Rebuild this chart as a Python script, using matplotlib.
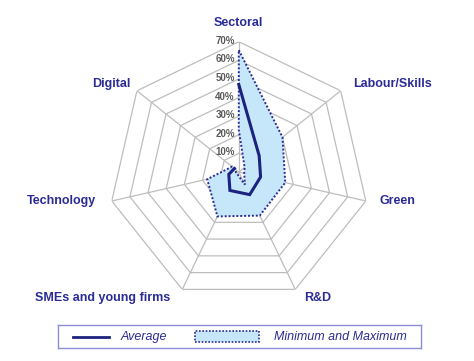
import numpy as np
import matplotlib
matplotlib.use("Agg")
import matplotlib.pyplot as plt
from matplotlib.patches import Rectangle

# ---- data ----
categories = ["Sectoral", "Labour/Skills", "Green", "R&D",
              "SMEs and young firms", "Technology", "Digital"]
average = [47, 14, 12, 13.5, 11, 5.5, 3]
maximum = [65.5, 30, 25.6, 26, 26.5, 17.4, 4.6]
minimum = [22.6, 4, 3, 7.5, 1.5, 1.5, 2.5]
ring_values = [10, 20, 30, 40, 50, 60, 70]
ring_labels = ["10%", "20%", "30%", "40%", "50%", "60%", "70%"]

NAVY = "#1c237e"
LABEL_BLUE = "#2b2b96"
FILL = "#c6e6fa"
GRID = "#bdbdbd"
FONT = "Liberation Sans"

W, H, DPI = 474, 361, 100
fig = plt.figure(figsize=(W / DPI, H / DPI), dpi=DPI)

cx, cy, R = 238.8, H - 172, 130.3
ax = fig.add_axes([(cx - R) / W, (cy - R) / H, 2 * R / W, 2 * R / H],
                  projection="polar")
ax.set_theta_zero_location("N")
ax.set_theta_direction(-1)
ax.set_ylim(0, 70)
ax.grid(False)
ax.set_xticks([])
ax.set_yticks([])
ax.spines["polar"].set_visible(False)
ax.patch.set_alpha(0)

n = len(categories)
theta = np.arange(n) * 2 * np.pi / n
theta_closed = np.append(theta, theta[0])

# heptagon grid
for r in ring_values:
    ax.plot(theta_closed, [r] * (n + 1), color=GRID, lw=0.9, zorder=1)
for t in theta:
    ax.plot([t, t], [0, ring_values[-1]], color=GRID, lw=0.9, zorder=1)

# min-max band (max forward, min backward)
band_t = np.concatenate([theta, theta[::-1]])
band_r = np.concatenate([maximum, minimum[::-1]])
ax.fill(band_t, band_r, facecolor=FILL, edgecolor=LABEL_BLUE,
        linestyle=(0, (1, 1)), lw=1.4, zorder=2)

# average line (open)
ax.plot(theta, average, color=NAVY, lw=2.2, zorder=3, solid_joinstyle="miter")

# ring labels
for r, lab in zip(ring_values, ring_labels):
    ax.annotate(lab, xy=(0, r), xytext=(-4, 1), textcoords="offset pixels",
                ha="right", va="center", fontsize=7, fontweight="bold",
                color="#5a5a5a", family=FONT, annotation_clip=False)

# category labels
offsets = [(0, 19, "center"), (12, 6.6, "left"), (14, 0, "left"),
           (9, -8.4, "left"), (-11.7, -8.4, "right"), (-15.4, 0, "right"),
           (-6, 6.6, "right")]
for t, lab, (dx, dy, ha) in zip(theta, categories, offsets):
    ax.annotate(lab, xy=(t, ring_values[-1]), xytext=(dx, dy),
                textcoords="offset pixels", ha=ha, va="center",
                fontsize=9, fontweight="bold", color=LABEL_BLUE,
                family=FONT, annotation_clip=False)

# legend box
lx0, lx1, ly_top, ly_bot = 58.3, 420.7, 325, 348.3
lw_, lh_ = lx1 - lx0, ly_bot - ly_top
lax = fig.add_axes([lx0 / W, (H - ly_bot) / H, lw_ / W, lh_ / H])
lax.set_xlim(0, lw_)
lax.set_ylim(0, lh_)
lax.set_xticks([])
lax.set_yticks([])
for s in lax.spines.values():
    s.set_color("#8e8ed2")
    s.set_linewidth(1.0)
mid = lh_ / 2
lax.plot([14.4, 51.0], [mid, mid], color=NAVY, lw=2.0)
lax.text(62.4, mid, "Average", ha="left", va="center", fontsize=9,
         style="italic", color=LABEL_BLUE, family=FONT)
lax.add_patch(Rectangle((137.0, mid - 5.3), 63.4, 10.6, facecolor=FILL,
                        edgecolor=LABEL_BLUE, linestyle=(0, (1, 1)), lw=1.2))
lax.text(215.7, mid, "Minimum and Maximum", ha="left", va="center",
         fontsize=9, style="italic", color=LABEL_BLUE, family=FONT)

fig.savefig("out.png", dpi=DPI)
